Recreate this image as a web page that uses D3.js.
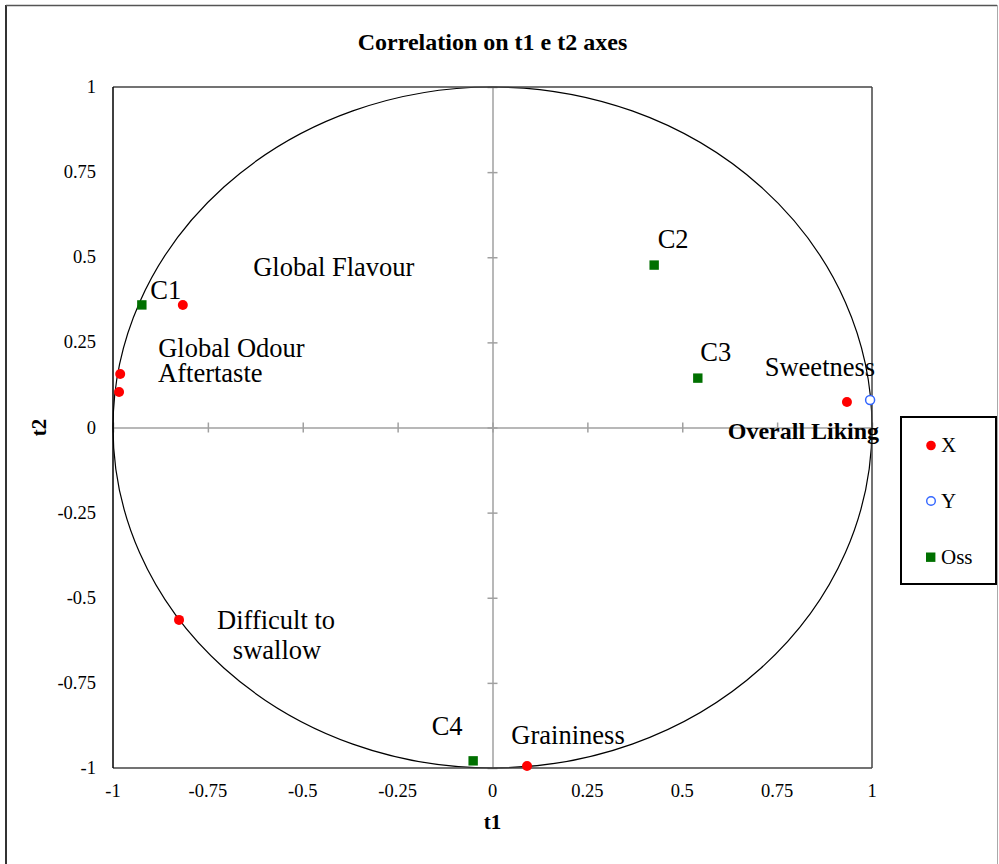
<!DOCTYPE html>
<html>
<head>
<meta charset="utf-8">
<script src="https://cdn.jsdelivr.net/npm/d3@7"></script>
<style>
  html, body { margin: 0; padding: 0; background: #fff; }
  svg { display: block; font-family: "Liberation Serif", "Times New Roman", serif; }
</style>
</head>
<body>
<svg id="chart" width="999" height="864"></svg>
<script>
// Variables (active, X)
const xNames = ["Global Flavour", "Global Odour", "Aftertaste", "Difficult to swallow", "Graininess", "Sweetness"];
const xT1 = [-0.816, -0.981, -0.984, -0.826, 0.091, 0.934];
const xT2 = [0.360, 0.157, 0.104, -0.565, -0.994, 0.075];

// Dependent variable (Y)
const yNames = ["Overall Liking"];
const yT1 = [0.995];
const yT2 = [0.081];

// Observations (Oss)
const ossNames = ["C1", "C2", "C3", "C4"];
const ossT1 = [-0.924, 0.426, 0.541, -0.051];
const ossT2 = [0.360, 0.477, 0.145, -0.979];

const tickValues = [-1, -0.75, -0.5, -0.25, 0, 0.25, 0.5, 0.75, 1];

const svg = d3.select("#chart");
const plotLeft = 113, plotRight = 872, plotTop = 87, plotBottom = 768;

const x = d3.scaleLinear().domain([-1, 1]).range([plotLeft, plotRight]);
const y = d3.scaleLinear().domain([-1, 1]).range([plotBottom, plotTop]);

// Outer frame
svg.append("line").attr("x1", 6).attr("x2", 6).attr("y1", 5).attr("y2", 864).attr("stroke", "#333").attr("stroke-width", 2);
svg.append("line").attr("x1", 6).attr("x2", 997).attr("y1", 5.5).attr("y2", 5.5).attr("stroke", "#555").attr("stroke-width", 1.5);
svg.append("line").attr("x1", 997.5).attr("x2", 997.5).attr("y1", 5).attr("y2", 864).attr("stroke", "#aaa").attr("stroke-width", 1);

// Title
svg.append("text").attr("x", x(0)).attr("y", 50).attr("text-anchor", "middle")
  .attr("font-size", 24).attr("font-weight", "bold").text("Correlation on t1 e t2 axes");

// Zero lines with crossing ticks
const zeroX = d3.axisBottom(x).tickValues(tickValues).tickSizeInner(10).tickSizeOuter(0).tickFormat("");
const gx0 = svg.append("g").attr("transform", `translate(0,${y(0)})`).call(zeroX);
gx0.selectAll("line").attr("y1", -5).attr("y2", 5);
gx0.selectAll("line, path").attr("stroke", "#a0a0a0").attr("stroke-width", 1.5);

const zeroY = d3.axisLeft(y).tickValues(tickValues).tickSizeInner(10).tickSizeOuter(0).tickFormat("");
const gy0 = svg.append("g").attr("transform", `translate(${x(0)},0)`).call(zeroY);
gy0.selectAll("line").attr("x1", -5).attr("x2", 5);
gy0.selectAll("line, path").attr("stroke", "#a0a0a0").attr("stroke-width", 1.5);

// Correlation circle
svg.append("ellipse").attr("cx", x(0)).attr("cy", y(0))
  .attr("rx", x(1) - x(0)).attr("ry", y(0) - y(1))
  .attr("fill", "none").attr("stroke", "#000").attr("stroke-width", 1.2);

// Plot border
svg.append("line").attr("x1", plotLeft).attr("x2", plotRight).attr("y1", plotTop).attr("y2", plotTop).attr("stroke", "#444").attr("stroke-width", 1.5);
svg.append("line").attr("x1", plotRight).attr("x2", plotRight).attr("y1", plotTop).attr("y2", plotBottom).attr("stroke", "#444").attr("stroke-width", 1.5);
svg.append("line").attr("x1", plotLeft).attr("x2", plotRight).attr("y1", plotBottom).attr("y2", plotBottom).attr("stroke", "#444").attr("stroke-width", 1.5);
svg.append("line").attr("x1", plotLeft).attr("x2", plotLeft).attr("y1", plotTop).attr("y2", plotBottom).attr("stroke", "#000").attr("stroke-width", 1.5);

// Tick labels
const fmt = d => String(d);
svg.append("g").selectAll("text").data(tickValues).join("text")
  .attr("x", d => x(d)).attr("y", 797).attr("text-anchor", "middle")
  .attr("font-size", 18.5).text(fmt);
svg.append("g").selectAll("text").data(tickValues).join("text")
  .attr("x", 96).attr("y", d => y(d) + 6).attr("text-anchor", "end")
  .attr("font-size", 18.5).text(fmt);

// Axis titles
svg.append("text").attr("x", x(0)).attr("y", 829).attr("text-anchor", "middle")
  .attr("font-size", 21).attr("font-weight", "bold").text("t1");
svg.append("text").attr("transform", `translate(46,${y(0)}) rotate(-90)`).attr("text-anchor", "middle")
  .attr("font-size", 21).attr("font-weight", "bold").text("t2");

// Markers
const xData = xNames.map((n, i) => ({ name: n, t1: xT1[i], t2: xT2[i] }));
const yData = yNames.map((n, i) => ({ name: n, t1: yT1[i], t2: yT2[i] }));
const ossData = ossNames.map((n, i) => ({ name: n, t1: ossT1[i], t2: ossT2[i] }));

svg.append("g").selectAll("rect").data(ossData).join("rect")
  .attr("x", d => x(d.t1) - 4.7).attr("y", d => y(d.t2) - 4.7)
  .attr("width", 9.4).attr("height", 9.4).attr("fill", "#007000");
svg.append("g").selectAll("circle").data(xData).join("circle")
  .attr("cx", d => x(d.t1)).attr("cy", d => y(d.t2)).attr("r", 5).attr("fill", "#ff0000");
svg.append("g").selectAll("circle").data(yData).join("circle")
  .attr("cx", d => x(d.t1)).attr("cy", d => y(d.t2)).attr("r", 4.5)
  .attr("fill", "#fff").attr("stroke", "#3366ff").attr("stroke-width", 1.5);

// Point labels
const labels = [
  { text: "Global Flavour", ref: xData[0], dx: 151, dy: -29, anchor: "middle" },
  { text: "Global Odour", ref: xData[1], dx: 38, dy: -17, anchor: "start" },
  { text: "Aftertaste", ref: xData[2], dx: 39, dy: -10, anchor: "start" },
  { text: "Difficult to", ref: xData[3], dx: 38, dy: 9, anchor: "start" },
  { text: "swallow", ref: xData[3], dx: 98, dy: 39, anchor: "middle" },
  { text: "Graininess", ref: xData[4], dx: 41, dy: -22, anchor: "middle" },
  { text: "Sweetness", ref: xData[5], dx: -27, dy: -26, anchor: "middle" },
  { text: "C1", ref: ossData[0], dx: 24, dy: -6, anchor: "middle" },
  { text: "C2", ref: ossData[1], dx: 19, dy: -17, anchor: "middle" },
  { text: "C3", ref: ossData[2], dx: 18, dy: -17, anchor: "middle" },
  { text: "C4", ref: ossData[3], dx: -26, dy: -26, anchor: "middle" }
];
svg.append("g").selectAll("text").data(labels).join("text")
  .attr("x", d => x(d.ref.t1) + d.dx).attr("y", d => y(d.ref.t2) + d.dy)
  .attr("text-anchor", d => d.anchor).attr("font-size", 26.5).text(d => d.text);
svg.append("text").attr("x", x(yData[0].t1) + 9).attr("y", y(yData[0].t2) + 39)
  .attr("text-anchor", "end").attr("font-size", 24).attr("font-weight", "bold").text(yData[0].name);

// Legend
const lg = svg.append("g");
lg.append("rect").attr("x", 901).attr("y", 417).attr("width", 95).attr("height", 167)
  .attr("fill", "#fff").attr("stroke", "#000").attr("stroke-width", 2);
const legendItems = [{ key: "X", cy: 445.5 }, { key: "Y", cy: 501 }, { key: "Oss", cy: 557 }];
legendItems.forEach(it => {
  if (it.key === "X") lg.append("circle").attr("cx", 931).attr("cy", it.cy).attr("r", 4.8).attr("fill", "#ff0000");
  if (it.key === "Y") lg.append("circle").attr("cx", 931).attr("cy", it.cy).attr("r", 4.3).attr("fill", "#fff").attr("stroke", "#3366ff").attr("stroke-width", 1.4);
  if (it.key === "Oss") lg.append("rect").attr("x", 926).attr("y", it.cy - 4.5).attr("width", 9.4).attr("height", 9.4).attr("fill", "#007000");
  lg.append("text").attr("x", 941).attr("y", it.cy + 6.5).attr("font-size", 21).text(it.key);
});
</script>
</body>
</html>
